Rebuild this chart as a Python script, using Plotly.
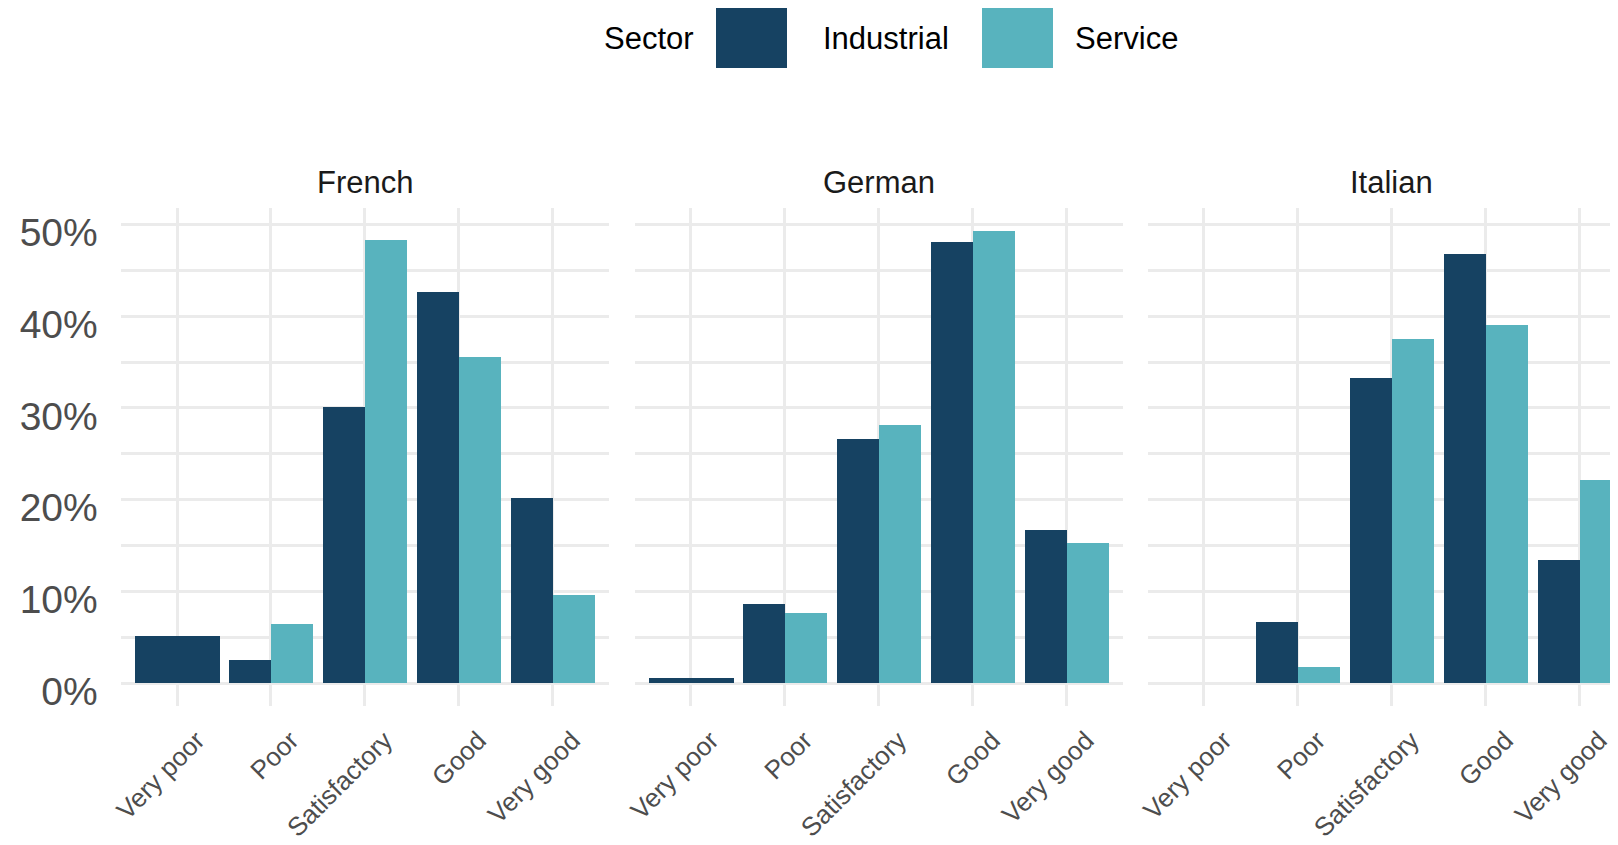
import plotly.graph_objects as go

# ---------------- data ----------------
languages = ["French", "German", "Italian"]
ratings = ["Very poor", "Poor", "Satisfactory", "Good", "Very good"]
sectors = ["Industrial", "Service"]
sector_colors = {"Industrial": "#164262", "Service": "#58B3BE"}

# percentage of respondents per rating (None = no respondents in that group)
french_industrial = [5.1, 2.5, 30.1, 42.6, 20.2]
french_service = [None, 6.4, 48.3, 35.5, 9.6]
german_industrial = [0.6, 8.6, 26.6, 48.1, 16.7]
german_service = [None, 7.6, 28.1, 49.3, 15.3]
italian_industrial = [None, 6.7, 33.3, 46.8, 13.4]
italian_service = [None, 1.8, 37.5, 39.0, 22.1]

values = {
    "French": {"Industrial": french_industrial, "Service": french_service},
    "German": {"Industrial": german_industrial, "Service": german_service},
    "Italian": {"Industrial": italian_industrial, "Service": italian_service},
}

y_ticks = [0, 10, 20, 30, 40, 50]
y_tick_labels = ["0%", "10%", "20%", "30%", "40%", "50%"]

# ---------------- geometry (pixels, page coords minus body margin) ----------------
W, H = 1618, 845
PAD = 8  # default page body margin
panel_left = [120.7 - PAD, 634.6 - PAD, 1147.5 - PAD]
panel_w = 488.1
panel_top, panel_bottom = 208.2 - PAD, 706.0 - PAD
visible_right = W - PAD
dodge = 0.9

FONT = "Liberation Sans, Arial, Helvetica, sans-serif"
GRID = "#ebebeb"
GW = 2.7

all_vals = [v for lang in languages for s in sectors for v in values[lang][s] if v is not None]
ymax = max(all_vals)
y_range = [-0.05 * ymax, 1.05 * ymax]

fig = go.Figure()

for i, lang in enumerate(languages):
    ax = "" if i == 0 else str(i + 1)
    for s_idx, s in enumerate(sectors):
        xs, ys, widths, offsets = [], [], [], []
        for r_idx, r in enumerate(ratings):
            v = values[lang][s][r_idx]
            if v is None:
                continue
            present = [values[lang][ss][r_idx] is not None for ss in sectors]
            n = sum(present)
            w = dodge / n
            pos = sum(present[:s_idx])
            xs.append(r)
            ys.append(v)
            widths.append(w)
            offsets.append(-dodge / 2 + pos * w)
        fig.add_trace(go.Bar(
            x=xs, y=ys, width=widths, offset=offsets,
            marker=dict(color=sector_colors[s], line=dict(width=0)),
            name=s, showlegend=False,
            xaxis="x" + ax, yaxis="y" + ax,
        ))

    right = min(panel_left[i] + panel_w, visible_right)
    x0 = panel_left[i] / W
    x1 = right / W
    vis_frac = (right - panel_left[i]) / panel_w
    xr = [-0.6, -0.6 + 5.2 * vis_frac]
    fig.update_layout(**{
        "xaxis" + ax: dict(
            domain=[x0, x1], type="category", categoryorder="array",
            categoryarray=ratings, range=xr, anchor="y" + ax,
            showgrid=True, gridcolor=GRID, gridwidth=GW,
            zeroline=False, showline=False, ticks="",
            tickangle=-45, tickfont=dict(family=FONT, size=26, color="#4d4d4d"),
            ticklabelstandoff=13, ticklabelshift=20,
            automargin=False, fixedrange=True,
        ),
        "yaxis" + ax: dict(
            domain=[1 - panel_bottom / H, 1 - panel_top / H],
            range=y_range, anchor="x" + ax,
            tickvals=y_ticks, ticktext=y_tick_labels,
            showticklabels=(i == 0),
            tickfont=dict(family=FONT, size=39, color="#4d4d4d"),
            ticklabelstandoff=22, ticklabelshift=8,
            showgrid=True, gridcolor=GRID, gridwidth=GW,
            minor=dict(dtick=5, showgrid=True, gridcolor=GRID, gridwidth=GW),
            zeroline=False, showline=False, ticks="",
            automargin=False, fixedrange=True,
        ),
    })
    # facet strip title
    fig.add_annotation(
        x=(panel_left[i] + panel_w / 2) / W, y=1 - (183 - PAD) / H,
        xref="paper", yref="paper", text=lang, showarrow=False,
        xanchor="center", yanchor="middle",
        font=dict(family=FONT, size=31, color="#1a1a1a"),
    )

# ---------------- legend (drawn as layout shapes + text) ----------------
leg_y0, leg_y1 = 7 - PAD, 68 - PAD
leg_cy = (leg_y0 + leg_y1) / 2 + 1
fig.add_annotation(
    x=(602 - PAD) / W, y=1 - leg_cy / H, xref="paper", yref="paper", text="Sector",
    showarrow=False, xanchor="left", yanchor="middle",
    font=dict(family=FONT, size=31, color="#000000"),
)
key_left = {"Industrial": 716 - PAD, "Service": 982 - PAD}
label_left = {"Industrial": 821 - PAD, "Service": 1073 - PAD}
for s in sectors:
    fig.add_shape(
        type="rect", xref="paper", yref="paper",
        x0=key_left[s] / W, x1=(key_left[s] + 71) / W,
        y0=1 - leg_y1 / H, y1=1 - leg_y0 / H,
        fillcolor=sector_colors[s], line=dict(width=0),
    )
    fig.add_annotation(
        x=label_left[s] / W, y=1 - leg_cy / H, xref="paper", yref="paper",
        text=s, showarrow=False, xanchor="left", yanchor="middle",
        font=dict(family=FONT, size=31, color="#000000"),
    )

fig.update_layout(
    width=W, height=H,
    margin=dict(l=0, r=0, t=0, b=0, autoexpand=False),
    barmode="overlay", bargap=0,
    plot_bgcolor="white", paper_bgcolor="white",
    showlegend=False,
    font=dict(family=FONT),
)

fig.write_html("out.html")
